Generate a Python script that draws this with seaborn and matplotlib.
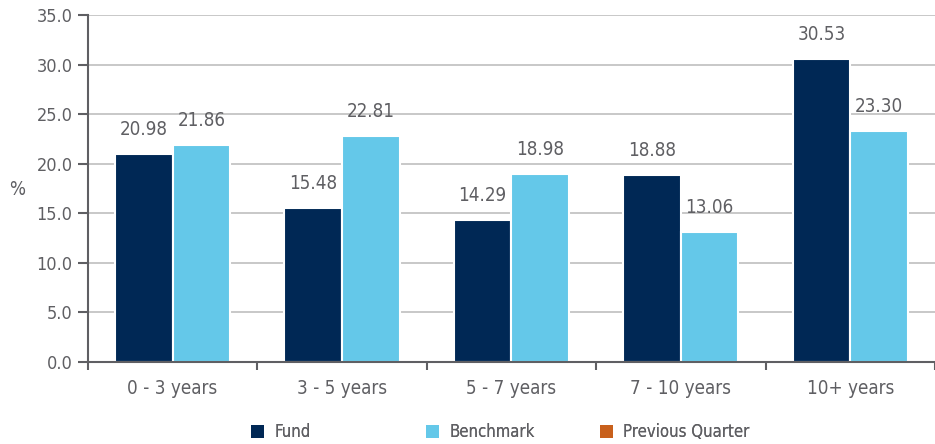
import pandas as pd
import seaborn as sns
import matplotlib.pyplot as plt
from matplotlib.patches import Patch
from matplotlib import font_manager

# chart values
categories = ['0 - 3 years', '3 - 5 years', '5 - 7 years', '7 - 10 years', '10+ years']
fund = [20.98, 15.48, 14.29, 18.88, 30.53]
benchmark = [21.86, 22.81, 18.98, 13.06, 23.30]
series_names = ['Fund', 'Benchmark', 'Previous Quarter']
y_ticks = [0, 5, 10, 15, 20, 25, 30, 35]

colors = {'Fund': '#002855', 'Benchmark': '#64C8E9', 'Previous Quarter': '#C8601C'}
text_gray = '#5f5f63'

print(sorted({f.name for f in font_manager.fontManager.ttflist}))
print([(f.name, f.stretch, f.fname) for f in font_manager.fontManager.ttflist if 'Condensed' in f.fname or 'Narrow' in f.fname])

sns.set_style('white')
plt.rcParams['font.family'] = ['DejaVu Sans']
plt.rcParams['font.stretch'] = 'condensed'

df = pd.DataFrame({
    'category': categories * 2,
    'series': ['Fund'] * len(fund) + ['Benchmark'] * len(benchmark),
    'value': fund + benchmark,
})

fig = plt.figure(figsize=(9.35, 4.44), dpi=100)
ax = fig.add_axes([0.094, 0.185, 0.906, 0.781])

sns.barplot(
    data=df, x='category', y='value', hue='series',
    hue_order=['Fund', 'Benchmark'], palette=colors, saturation=1,
    width=0.68, edgecolor='white', linewidth=1.5, ax=ax, legend=False,
)

for cont in ax.containers:
    ax.bar_label(cont, fmt='%.2f', padding=11, fontsize=13.5, color=text_gray)

ax.set_ylim(0, 35)
ax.set_xlim(-0.5, 4.5)
ax.set_yticks(y_ticks)
ax.set_yticklabels([f'{t:.1f}' for t in y_ticks], fontsize=13, color=text_gray)
ax.yaxis.grid(True, color='#c8c8c8', linewidth=1.4)
ax.set_axisbelow(True)

# ticks on the category boundaries
ax.set_xticks(range(len(categories)))
ax.set_xticklabels(categories, fontsize=13.5, color=text_gray)
ax.tick_params(axis='x', which='major', length=0, pad=12)
ax.set_xticks([i - 0.5 for i in range(len(categories) + 1)], minor=True)
ax.tick_params(axis='x', which='minor', bottom=True, length=6, width=1.5,
               color='#5f5f63', direction='out')
ax.tick_params(axis='y', left=True, length=7, width=1.5, color='#5f5f63',
               direction='out', pad=4)

ax.set_xlabel('')
ax.set_ylabel('%', rotation=0, fontsize=13.5, color=text_gray, va='center', ha='center')
ax.yaxis.set_label_coords(-0.083, 0.496)

for s in ['top', 'right']:
    ax.spines[s].set_visible(False)
for s in ['left', 'bottom']:
    ax.spines[s].set_color('#5f5f63')
    ax.spines[s].set_linewidth(1.5)

# one legend per entry so the spacing matches
legend_x = [251, 426, 600]
for name, x in zip(series_names, legend_x):
    leg = fig.legend(
        [Patch(facecolor=colors[name], edgecolor='none')], [name],
        loc='center left', bbox_to_anchor=(x / 935, 0.027), frameon=False,
        fontsize=12, labelcolor=text_gray, handlelength=0.8, handleheight=0.8,
        handletextpad=0.6, borderpad=0, borderaxespad=0,
    )
    fig.add_artist(leg)

fig.savefig('out.png', dpi=100)
